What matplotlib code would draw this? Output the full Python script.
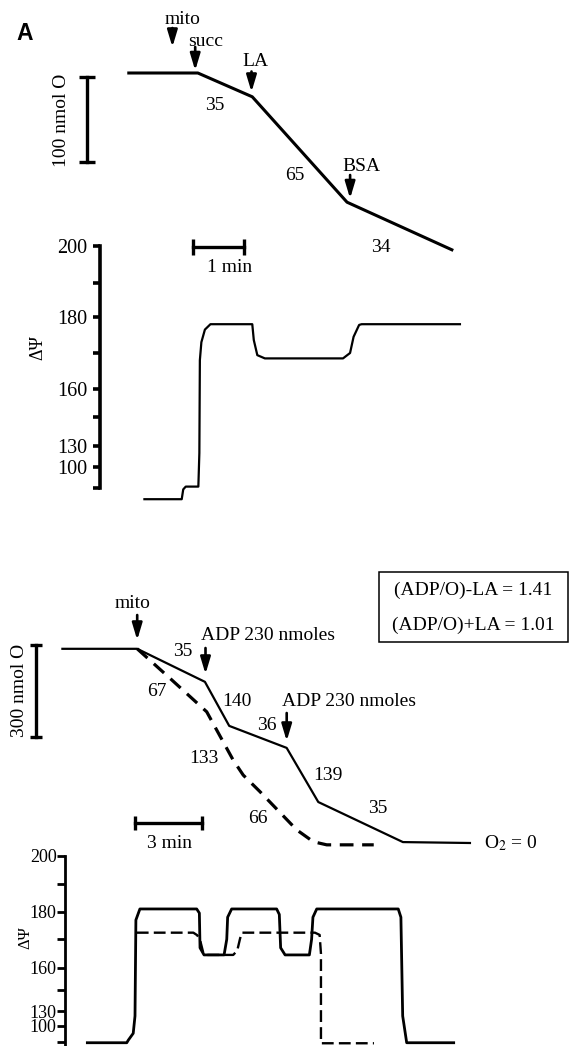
import numpy as np
import matplotlib
matplotlib.use('Agg')
import matplotlib.pyplot as plt
import matplotlib.transforms as mtransforms
from matplotlib.patches import Rectangle

plt.rcParams['font.family'] = ['Liberation Serif', 'DejaVu Serif']
plt.rcParams['mathtext.fontset'] = 'stix'

# ---------------- data ----------------
# panel A top: O2 consumption (time in min, O2 in nmol O)
top_t = [0, 1.37, 2.45, 4.33, 6.41]
top_o2 = [220, 220, 192, 68, 12]
top_rates = ['35', '65', '34']

# panel A top: membrane potential (mV)
top_psi_t = [0.31, 1.05, 1.08, 1.13, 1.38, 1.40, 1.41, 1.44, 1.51, 1.62,
             2.45, 2.48, 2.55, 2.70, 4.25, 4.39, 4.46, 4.57, 4.62, 6.57]
top_psi = [54, 54, 68, 72, 72, 120, 168, 173, 176.5, 178,
           178, 173.6, 169.4, 168.5, 168.5, 170, 174.5, 177.8, 178, 178]

# bottom: O2 traces, -LA (solid) and +LA (dashed)
bot_t = [0, 3.36, 6.40, 7.49, 10.07, 11.49, 15.29, 18.30]
bot_o2 = [635, 635, 527, 383, 311, 134, 3, 0]
bot_t_dash = [3.36, 4.90, 6.48, 7.67, 8.12, 8.87, 10.52, 11.27, 11.87, 13.98]
bot_o2_dash = [635, 534, 429, 271, 222, 168, 43, 4, -6, -6]

# bottom: membrane potential, -LA (solid) and +LA (dashed)
bot_psi_t = [1.12, 2.89, 2.96, 3.18, 3.26, 3.30, 3.48, 6.03, 6.15, 6.18, 6.36,
             7.26, 7.38, 7.42, 7.60, 9.62, 9.74, 9.80, 10.0, 11.09, 11.19,
             11.25, 11.42, 15.08, 15.20, 15.28, 15.46, 17.57]
bot_psi = [68, 68, 73, 86, 120, 177, 181, 181, 179.5, 167, 164.5,
           164.5, 170, 178, 181, 181, 179, 167, 164.5, 164.5, 170,
           178, 181, 181, 178, 120, 68, 68]
bot_psi_t_dash = [3.34, 5.88, 6.05, 6.18, 6.33, 6.42, 7.67, 7.85, 7.97, 8.05,
                  11.34, 11.55, 11.61, 11.61, 13.99]
bot_psi_dash = [172.4, 172.4, 171.5, 169.8, 165.1, 164.5, 164.5, 166, 170, 172.4,
                172.4, 171.6, 165, 67, 67]

psi_ticks = [100, 130, 160, 180, 200]
psi_minor = [70, 145, 170, 190]
adpo = ['(ADP/O)-LA = 1.41', '(ADP/O)+LA = 1.01']

# ---------------- figure ----------------
W, H = 569, 1046
fig = plt.figure(figsize=(W / 100, H / 100), dpi=100)
px = mtransforms.Affine2D().scale(1 / W, -1 / H).translate(0, 1) + fig.transFigure


def px_axes(x0, y0, x1, y1):
    ax = fig.add_axes([x0 / W, 1 - y1 / H, (x1 - x0) / W, (y1 - y0) / H])
    ax.set_facecolor('none')
    return ax


def psi_scale(kv, kp):
    # the original figure uses a broken (piecewise) mV axis
    kv = np.asarray(kv, float)
    kp = np.asarray(kp, float)
    fwd = lambda v: -np.interp(v, kv, kp)
    inv = lambda s: np.interp(-np.asarray(s, float), kp[::-1], kv[::-1])
    return fwd, inv


def label(x, y, s, size=14, **kw):
    kw.setdefault('ha', 'center')
    kw.setdefault('va', 'center')
    fig.text(x, y, s, transform=px, fontsize=size, **kw)


def arrow(ax, x, y0, y1):
    ax.annotate('', xy=(x, y1), xytext=(x, y0), xycoords=px, textcoords=px,
                arrowprops=dict(arrowstyle='-|>,head_length=0.5,head_width=0.15',
                                color='k', lw=1.9, mutation_scale=20,
                                shrinkA=0, shrinkB=0))


def style_psi(ax, fwd, inv, ybot_px, ytop_px, tsize, pad, lw, tl):
    ax.set_yscale('function', functions=(fwd, inv))
    ax.set_ylim(float(inv(-ybot_px)), float(inv(-ytop_px)))
    for s in ['top', 'right', 'bottom']:
        ax.spines[s].set_visible(False)
    ax.spines['left'].set_linewidth(lw)
    ax.xaxis.set_visible(False)
    ax.set_yticks(psi_ticks)
    ax.set_yticklabels([str(v) for v in psi_ticks], fontsize=tsize)
    ax.set_yticks(psi_minor, minor=True)
    ax.yaxis.set_minor_formatter(plt.NullFormatter())
    ax.tick_params(axis='y', which='both', direction='out', length=tl, width=lw, pad=pad)


# ---- top O2 trace ----
ax1 = px_axes(0, 0, 569, 300)
ax1.axis('off')
ax1.set_xlim((0 - 128.8) / 50.4, (569 - 128.8) / 50.4)
ax1.set_ylim((260 - 300) / 0.85, 260 / 0.85)
ax1.plot(top_t, top_o2, color='k', lw=2.2)
# scale bars: 100 nmol O and 1 min
ax1.plot([-0.83, -0.83], [115, 115 + 100], color='k', lw=2.4, marker='_', ms=12, mew=2.4)
ax1.plot([1.28, 1.28 + 1], [15, 15], color='k', lw=2.4, marker='|', ms=12, mew=2.4)

label(24.7, 33, 'A', size=16.5, family='Liberation Sans', weight='bold')
label(183, 20, 'mito')
arrow(ax1, 172.4, 28, 47)
label(206, 42, 'succ')
arrow(ax1, 195.2, 47, 70.5)
label(255.8, 61.5, 'LA')
arrow(ax1, 251.5, 71.5, 92)
label(361, 166.5, 'BSA')
arrow(ax1, 350.1, 175, 198.5)
label(214.8, 106, top_rates[0])
label(294.6, 175, top_rates[1])
label(381, 247, top_rates[2])
label(229.3, 267, '1 min')
label(62, 120, '100 nmol O', rotation=90)
label(38, 348, 'ΔΨ', size=13, rotation=90)

# ---- top membrane potential ----
f1, i1 = psi_scale([0, 70, 100, 130, 145, 160, 170, 180, 190, 200, 300],
                   [537, 488, 467, 446, 417, 389, 353, 317, 283, 246, -124])
ax2 = px_axes(99.8, 236, 569, 510)
ax2.set_xlim((99.8 - 128.8) / 50.4, (569 - 128.8) / 50.4)
style_psi(ax2, f1, i1, 510, 236, 14.5, 3.5, 2.6, 5.2)
ax2.spines['left'].set_bounds(70, 200)
ax2.plot(top_psi_t, top_psi, color='k', lw=1.6)

# ---- bottom O2 traces ----
ax3 = px_axes(0, 560, 569, 870)
ax3.axis('off')
ax3.set_xlim((0 - 62.4) / 22.27, (569 - 62.4) / 22.27)
ax3.set_ylim((843 - 870) * 3.27, (843 - 560) * 3.27)
ax3.plot(bot_t, bot_o2, color='k', lw=1.6)
ax3.plot(bot_t_dash, bot_o2_dash, color='k', lw=2.3, linestyle=(0, (4.3, 2.7)))
ax3.plot([-1.17, -1.17], [347, 347 + 300], color='k', lw=2.4, marker='_', ms=9, mew=2.4)
ax3.plot([3.27, 3.27 + 3], [65, 65], color='k', lw=2.4, marker='|', ms=9.5, mew=2.4)

label(132.4, 603, 'mito')
arrow(ax3, 137.2, 615, 640)
label(201.4, 635, 'ADP 230 nmoles', ha='left')
arrow(ax3, 205.5, 648, 674)
label(282.3, 702, 'ADP 230 nmoles', ha='left')
arrow(ax3, 286.7, 713, 741)
for (x, y), s in zip([(182.7, 651.5), (156.7, 691.5), (236.7, 701.5), (266.7, 726),
                      (204.3, 758.3), (328.3, 775), (258.3, 818.3), (377.4, 808.3)],
                     ['35', '67', '140', '36', '133', '139', '66', '35']):
    label(x, y, s)
label(170, 843.3, '3 min')
label(484.4, 843.5, r'O$_2$ = 0', ha='left')
label(20, 690, '300 nmol O', rotation=90)
fig.add_artist(Rectangle((379.2, 571.7), 568.5 - 379.2, 70, transform=px,
                         fill=False, ec='k', lw=1.1))
label(473.5, 590.5, adpo[0])
label(473.5, 625, adpo[1])
label(25, 938, 'ΔΨ', size=12, rotation=90)

# ---- bottom membrane potential ----
f2, i2 = psi_scale([0, 70, 100, 130, 145, 160, 170, 180, 190, 200, 300],
                   [1078, 1041.7, 1026, 1011, 990, 967.7, 939.3, 911.7, 884.3, 856, 573])
ax4 = px_axes(65, 845, 569, 1052)
ax4.set_xlim((65 - 62.4) / 22.27, (569 - 62.4) / 22.27)
style_psi(ax4, f2, i2, 1052, 845, 13, 0.3, 2.0, 5.8)
ax4.spines['left'].set_bounds(ax4.get_ylim()[0], 200)
ax4.plot(bot_psi_t, bot_psi, color='k', lw=2.0)
ax4.plot(bot_psi_t_dash, bot_psi_dash, color='k', lw=1.7, linestyle=(0, (5, 2.2)))

fig.savefig('out.png', dpi=100)
